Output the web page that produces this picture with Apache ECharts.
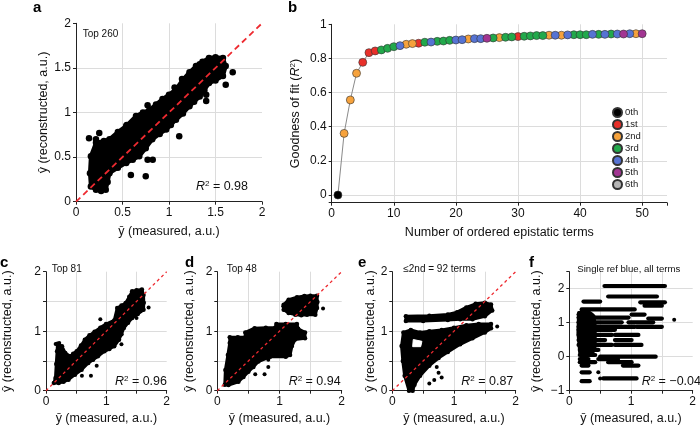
<!DOCTYPE html>
<html><head><meta charset="utf-8">
<script src="https://cdn.jsdelivr.net/npm/echarts@6/dist/echarts.min.js"></script>
<style>html,body{margin:0;padding:0;background:#fff}#c{width:700px;height:426px}</style>
</head><body><div id="c"></div>
<script>
// ---------- Panel b data ----------
const bTerms = [1,2,3,4,5,6,7,8,9,10,11,12,13,14,15,16,17,18,19,20,21,22,23,24,25,26,27,28,29,30,31,32,33,34,35,36,37,38,39,40,41,42,43,44,45,46,47,48,49,50];
const bR2 = [0,0.361,0.557,0.713,0.777,0.834,0.844,0.850,0.859,0.869,0.875,0.883,0.887,0.889,0.895,0.896,0.900,0.902,0.906,0.908,0.910,0.914,0.916,0.916,0.918,0.920,0.922,0.924,0.926,0.928,0.930,0.932,0.934,0.934,0.936,0.936,0.936,0.938,0.939,0.939,0.939,0.941,0.941,0.941,0.943,0.943,0.943,0.945,0.945,0.945];
const bOrder = [0,2,2,2,1,1,1,3,3,3,4,2,2,1,3,4,3,3,3,4,4,2,4,4,5,3,2,3,3,1,3,3,3,3,2,4,2,4,3,3,3,4,3,4,3,4,5,4,2,5];
const orderNames = ['0th','1st','2nd','3rd','4th','5th','6th'];
const orderColors = ['#000000','#e8302a','#f6a23c','#22a94b','#5673d3','#a23592','#b5b5b5'];
const bXTicks = [0,10,20,30,40,50];

// ---------- Scatter panels (cloud outlines + isolated points, data units) ----------
const aCloud = [[0.16,0.51],[0.215,0.66],[0.30,0.68],[0.36,0.70],[0.45,0.78],[0.54,0.85],[0.645,0.96],[0.72,1.0],[0.79,1.03],[0.86,1.09],[0.93,1.15],[1.0,1.2],[1.075,1.26],[1.15,1.37],[1.22,1.45],[1.29,1.52],[1.36,1.57],[1.43,1.61],[1.50,1.62],[1.58,1.61],[1.61,1.52],[1.58,1.41],[1.50,1.36],[1.43,1.33],[1.38,1.25],[1.33,1.18],[1.27,1.12],[1.22,1.07],[1.15,0.99],[1.075,0.92],[1.02,0.86],[0.97,0.81],[0.90,0.76],[0.82,0.70],[0.75,0.60],[0.68,0.51],[0.61,0.47],[0.54,0.435],[0.45,0.38],[0.36,0.32],[0.34,0.22],[0.32,0.135],[0.27,0.12],[0.215,0.135],[0.16,0.17],[0.15,0.32]];
const aPoints = [[1.685,1.45],[1.61,1.31],[1.40,1.20],[1.40,1.13],[1.06,1.28],[1.14,1.375],[1.33,1.54],[0.77,1.08],[0.545,0.86],[1.11,0.735],[0.77,0.47],[0.825,0.47],[0.75,0.285],[0.59,0.30],[0.25,0.77],[0.215,0.70],[0.14,0.71]];

const cCloud = [[0.157,0.213],[0.17,0.45],[0.184,0.662],[0.19,0.79],[0.265,0.746],[0.319,0.634],[0.40,0.578],[0.45,0.62],[0.508,0.662],[0.58,0.76],[0.643,0.857],[0.72,0.93],[0.805,0.99],[0.9,1.06],[0.994,1.12],[1.13,1.18],[1.18,1.39],[1.25,1.43],[1.32,1.474],[1.38,1.58],[1.427,1.67],[1.5,1.69],[1.589,1.70],[1.616,1.61],[1.62,1.48],[1.616,1.36],[1.52,1.29],[1.427,1.22],[1.36,1.14],[1.29,1.054],[1.25,0.95],[1.21,0.857],[1.13,0.746],[1.05,0.70],[0.967,0.662],[0.86,0.578],[0.78,0.52],[0.70,0.466],[0.59,0.353],[0.48,0.27],[0.373,0.185],[0.29,0.15],[0.21,0.13],[0.13,0.13]];
const cPoints = [[1.70,1.40],[0.84,0.42],[0.595,0.25],[0.745,0.25],[0.16,0.785],[0.22,0.80],[1.25,0.78],[1.5,1.22],[0.9,1.2]];

const dBlock = [[1.067,1.445],[1.147,1.53],[1.281,1.57],[1.40,1.59],[1.496,1.597],[1.603,1.597],[1.61,1.49],[1.603,1.389],[1.576,1.278],[1.442,1.278],[1.35,1.27],[1.254,1.278],[1.147,1.306],[1.067,1.36]];
const dBody = [[0.12,0.10],[0.13,0.35],[0.17,0.6],[0.2,0.8],[0.2,0.9],[0.33,0.9],[0.45,0.9],[0.45,0.98],[0.6,1.05],[0.78,1.06],[0.93,1.06],[0.95,1.12],[1.1,1.12],[1.28,1.12],[1.3,1.04],[1.41,0.98],[1.41,0.88],[1.25,0.86],[1.2,0.75],[1.17,0.6],[1.1,0.57],[0.85,0.57],[0.66,0.49],[0.58,0.40],[0.5,0.32],[0.42,0.23],[0.34,0.15],[0.18,0.095]];
const dPoints = [[1.70,1.38],[0.82,0.40],[0.61,0.275],[0.76,0.275],[1.06,1.42],[0.82,0.52]];

const eTop = [[0.22,1.17],[0.22,1.25],[0.6,1.26],[0.9,1.28],[1.05,1.32],[1.2,1.40],[1.35,1.46],[1.5,1.48],[1.6,1.45],[1.62,1.35],[1.5,1.25],[1.3,1.20],[1.1,1.2],[0.9,1.19],[0.5,1.17]];
const eBody = [[0.27,0.0],[0.33,0.0],[0.36,0.1],[0.45,0.25],[0.6,0.42],[0.75,0.55],[0.9,0.65],[1.1,0.78],[1.3,0.88],[1.5,0.98],[1.6,1.05],[1.6,1.12],[1.4,1.12],[1.2,1.1],[1.0,1.06],[0.8,1.02],[0.6,1.0],[0.45,0.98],[0.3,1.02],[0.18,0.98],[0.15,0.75],[0.17,0.5],[0.2,0.25]];
const eHole = [[0.33,0.74],[0.46,0.74],[0.48,0.83],[0.34,0.86]];
const ePoints = [[0.75,0.3],[0.8,0.22],[0.68,0.18],[0.6,0.12],[1.70,1.08],[0.72,0.4]];

const fColumn = [[0.15,1.3],[0.32,1.32],[0.4,1.2],[0.42,0.9],[0.42,0.3],[0.38,0.1],[0.17,0.1],[0.14,0.7]];
const fStripes = [[0.57,1.55,2.08],[0.63,1.42,1.77],[0.23,0.50,1.62],[1.15,1.55,1.60],[1.22,1.50,1.50],[0.20,1.06,1.39],[0.15,0.36,1.24],[1.01,1.22,1.24],[0.15,0.96,1.15],[1.28,1.50,1.12],[0.15,0.85,1.01],[0.96,1.36,1.01],[0.15,1.06,0.88],[1.09,1.50,0.88],[0.15,0.74,0.79],[0.15,0.69,0.64],[0.74,1.12,0.64],[0.15,0.58,0.49],[0.74,1.01,0.49],[0.15,0.69,0.345],[0.74,1.17,0.345],[0.17,0.47,0.20],[0.17,0.42,0.05],[0.5,1.4,0.0],[0.17,0.31,-0.07],[0.47,0.79,-0.07],[0.17,0.42,-0.16],[0.63,1.01,-0.16],[0.2,0.31,-0.26],[0.87,1.12,-0.26],[0.2,0.33,-0.46],[0.55,1.09,-0.64],[0.2,0.33,-0.72]];
const fPoints = [[1.70,1.09],[0.47,-0.46],[0.5,-0.64]];

const diag = [[0,0],[2,2]];

// ---------- build ----------
const FF = '"Liberation Sans", Arial, Helvetica, sans-serif';
const chart = echarts.init(document.getElementById('c'), null, {renderer:'canvas'});

const grids = [
  {left:76, top:23.3, width:186, height:178.4},
  {left:331.7, top:24.3, width:335.3, height:178.4},
  {left:43.3, top:271.7, width:123.4, height:119},
  {left:217.3, top:271.7, width:124.4, height:119},
  {left:392.3, top:271.7, width:123.4, height:119},
  {left:569.3, top:271.7, width:123.4, height:119}
];

const nameStyle = {fontSize:12.5, color:'#111', fontFamily:FF,
  rich:{i:{fontStyle:'italic', fontSize:12.5, fontFamily:FF, color:'#111'}, s:{fontSize:8, verticalAlign:'top', fontFamily:FF, color:'#111'}}};
function ax(gi, o) {
  return Object.assign({
    type:'value', gridIndex:gi, nameLocation:'middle', nameTextStyle:nameStyle,
    axisLine:{show:true, onZero:false, lineStyle:{color:'#222', width:1}},
    axisTick:{show:true, length:3, lineStyle:{color:'#222'}},
    axisLabel:{color:'#111', fontSize:12, fontFamily:FF, margin:5},
    splitLine:{show:true, showMinLine:false, showMaxLine:false, lineStyle:{color:'#dcdcdc', width:1}}
  }, o);
}
const intOnly = v => (Math.abs(v - Math.round(v)) < 1e-9 ? (v < 0 ? '\u2212' + (-v) : String(v)) : '');
const lab = f => ({color:'#111', fontSize:12, fontFamily:FF, margin:5, formatter:f});
const XN = '\u0233 (measured, a.u.)';
const YN = '\u0177 (reconstructed, a.u.)';

const xAxis = [
  ax(0,{min:0,max:2,interval:0.5,name:XN,nameGap:23}),
  ax(1,{min:0,max:54,interval:10,name:'Number of ordered epistatic terms',nameGap:23,
        axisLabel:lab(v=>bXTicks.indexOf(v)>=0?String(v):'')}),
  ax(2,{min:0,max:2,interval:0.5,name:XN,nameGap:21,axisLabel:lab(intOnly)}),
  ax(3,{min:0,max:2,interval:0.5,name:XN,nameGap:21,axisLabel:lab(intOnly)}),
  ax(4,{min:0,max:2,interval:0.5,name:XN,nameGap:21,axisLabel:lab(intOnly)}),
  ax(5,{min:0,max:2,interval:0.5,name:XN,nameGap:21,axisLabel:lab(intOnly)})
];
const yAxis = [
  ax(0,{min:0,max:2,interval:0.5,name:YN,nameGap:25}),
  ax(1,{min:-0.045,max:1,splitNumber:5,name:'Goodness of fit ({i|R}{s|2})',nameGap:30,
        axisLabel:lab(v=>v<0?'':String(+v.toFixed(1)))}),
  ax(2,{min:0,max:2,interval:0.5,name:YN,nameGap:32,axisLabel:lab(intOnly)}),
  ax(3,{min:0,max:2,interval:0.5,name:YN,nameGap:21,axisLabel:lab(intOnly)}),
  ax(4,{min:0,max:2,interval:0.5,name:YN,nameGap:15,axisLabel:lab(intOnly)}),
  ax(5,{min:-1,max:2.5,interval:1,name:YN,nameGap:26,axisLabel:lab(intOnly)})
];

function polySeries(gi, polys, fill, lw) {
  return {type:'custom', xAxisIndex:gi, yAxisIndex:gi, silent:true, z:2,
    data: polys.map(p => [p[0][0], p[0][1]]),
    renderItem: (params, api) => {
      const pts = polys[params.dataIndex].map(v => api.coord(v));
      return {type:'polygon', shape:{points:pts}, style:{fill:fill, stroke:fill, lineWidth:lw, lineJoin:'round'}};
    }};
}
function stripeSeries(gi, stripes, lw) {
  return {type:'custom', xAxisIndex:gi, yAxisIndex:gi, silent:true, z:2,
    data: stripes.map(s => [s[0], s[2]]),
    renderItem: (params, api) => {
      const s = stripes[params.dataIndex];
      const p1 = api.coord([s[0], s[2]]), p2 = api.coord([s[1], s[2]]);
      return {type:'line', shape:{x1:p1[0],y1:p1[1],x2:p2[0],y2:p2[1]}, style:{stroke:'#000', lineWidth:lw, lineCap:'round'}};
    }};
}
function dots(gi, pts, size) {
  return {type:'scatter', xAxisIndex:gi, yAxisIndex:gi, silent:true, z:3, data:pts, symbolSize:size,
    itemStyle:{color:'#000', opacity:1}};
}
function diagLine(gi, w, dash) {
  return {type:'line', xAxisIndex:gi, yAxisIndex:gi, silent:true, z:6, data:diag, symbol:'none',
    lineStyle:{color:'#ee2a30', width:w, type:dash}};
}

const series = [
  polySeries(0,[aCloud],'#000',4), dots(0,aCloud,6.5), dots(0,aPoints,6.5), diagLine(0,1.8,[6,4]),
  polySeries(2,[cCloud],'#000',3), dots(2,cCloud,4.5), dots(2,cPoints,4), diagLine(2,1.3,[3,3]),
  polySeries(3,[dBlock,dBody],'#000',3), dots(3,dBlock.concat(dBody),4.5), dots(3,dPoints,4), diagLine(3,1.3,[3,3]),
  polySeries(4,[eTop,eBody],'#000',3), dots(4,eTop.concat(eBody),4.5), polySeries(4,[eHole],'#fff',1), dots(4,ePoints,4), diagLine(4,1.3,[3,3]),
  polySeries(5,[fColumn],'#000',3), stripeSeries(5,fStripes,4.2), dots(5,fPoints,4),
  {type:'line', name:'fit', xAxisIndex:1, yAxisIndex:1, silent:true, z:3, symbol:'none',
   data: bTerms.map((t,i)=>[t,bR2[i]]), lineStyle:{color:'#8a8a8a', width:1}}
];
orderNames.forEach((n,k) => {
  series.push({type:'scatter', name:n, xAxisIndex:1, yAxisIndex:1, z:4, symbolSize:8,
    data: bTerms.map((t,i)=>[t,bR2[i],bOrder[i]]).filter(d=>d[2]===k).map(d=>[d[0],d[1]]),
    itemStyle:{color:orderColors[k], borderColor:'#333', borderWidth:0.6, opacity:1}});
});

const rich = {i:{fontStyle:'italic', fontSize:12.5, fontFamily:FF, fill:'#111'}, s:{fontSize:8, verticalAlign:'top', fontFamily:FF, fill:'#111'}};
function t(txt, pos, size, extra) {
  return Object.assign({type:'text', z:100, style:Object.assign({text:txt, fontSize:size, fontFamily:FF, fill:'#111'}, extra||{})}, pos);
}
const graphic = [
  t('a',{left:33,top:0},15,{fontWeight:'bold',fill:'#000'}),
  t('b',{left:288,top:0},15,{fontWeight:'bold',fill:'#000'}),
  t('c',{left:0,top:255},15,{fontWeight:'bold',fill:'#000'}),
  t('d',{left:185,top:255},15,{fontWeight:'bold',fill:'#000'}),
  t('e',{left:358,top:255},15,{fontWeight:'bold',fill:'#000'}),
  t('f',{left:529,top:255},15,{fontWeight:'bold',fill:'#000'}),
  t('Top 260',{left:82.7,top:29.5},10),
  t('Top 81',{left:51.7,top:264.5},10),
  t('Top 48',{left:226.7,top:264.5},10),
  t('\u22642nd = 92 terms',{left:403.3,top:264.5},10),
  t('Single ref blue, all terms',{left:577.3,top:264.5},9.6),
  t('{i|R}{s|2} = 0.98',{right:452,top:180},12.5,{rich:rich}),
  t('{i|R}{s|2} = 0.96',{right:533,top:375},12.5,{rich:rich}),
  t('{i|R}{s|2} = 0.94',{right:359.3,top:375},12.5,{rich:rich}),
  t('{i|R}{s|2} = 0.87',{right:186.7,top:375},12.5,{rich:rich}),
  t('{i|R}{s|2} = \u22120.04',{right:-1,top:375},12.5,{rich:rich})
];

chart.setOption({
  animation:false, backgroundColor:'#fff',
  grid:grids, xAxis:xAxis, yAxis:yAxis, series:series, graphic:graphic,
  legend:{data:orderNames.map(n=>({name:n, icon:'circle'})), orient:'vertical', left:607, top:102,
    itemWidth:9, itemHeight:9, itemGap:1, selectedMode:false,
    textStyle:{fontSize:9.5, color:'#222', fontFamily:FF, padding:[0,0,0,-2]}}
});
</script></body></html>
